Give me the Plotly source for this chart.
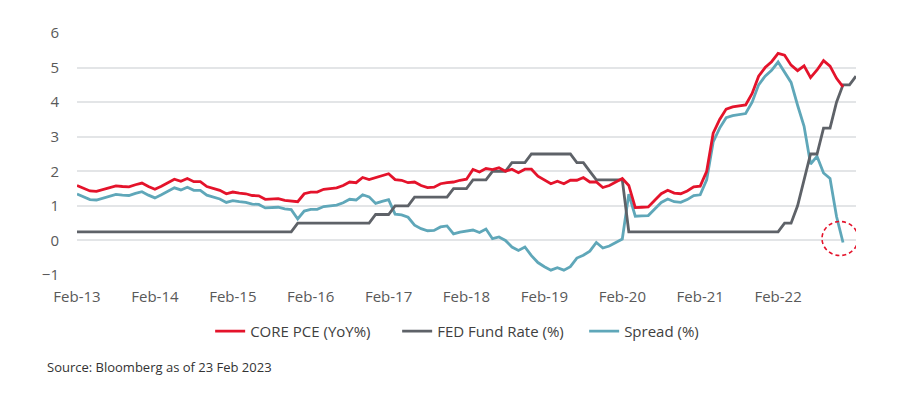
import pandas as pd
import plotly.graph_objects as go

# Monthly observations from Feb-2013
months = pd.date_range("2013-02-01", "2023-02-01", freq="MS").strftime("%b-%y").tolist()

core_pce = [
    1.59, 1.52, 1.43, 1.42, 1.47, 1.51, 1.58, 1.56, 1.55, 1.61, 1.66, 1.56,
    1.48, 1.57, 1.68, 1.77, 1.71, 1.79, 1.70, 1.70, 1.56, 1.50, 1.45, 1.35,
    1.40, 1.37, 1.35, 1.30, 1.29, 1.19, 1.21, 1.21, 1.16, 1.14, 1.12, 1.35,
    1.40, 1.40, 1.48, 1.50, 1.52, 1.59, 1.69, 1.67, 1.82, 1.76, 1.82, 1.88,
    1.93, 1.76, 1.74, 1.67, 1.69, 1.59, 1.53, 1.54, 1.64, 1.67, 1.69, 1.74,
    1.77, 2.05, 1.98, 2.08, 2.05, 2.10, 2.00, 2.06, 1.96, 2.06, 2.06, 1.86,
    1.74, 1.64, 1.71, 1.64, 1.74, 1.74, 1.82, 1.69, 1.69, 1.53, 1.59, 1.69,
    1.79, 1.59, 0.95, 0.96, 0.97, 1.16, 1.35, 1.45, 1.37, 1.35, 1.43, 1.55,
    1.57, 2.00, 3.10, 3.50, 3.80, 3.86, 3.88, 3.92, 4.25, 4.75, 5.00, 5.17,
    5.41, 5.36, 5.07, 4.91, 5.05, 4.71, 4.93, 5.20, 5.04, 4.69, 4.44,
]

fed_funds = [
    0.25, 0.25, 0.25, 0.25, 0.25, 0.25, 0.25, 0.25, 0.25, 0.25, 0.25, 0.25,
    0.25, 0.25, 0.25, 0.25, 0.25, 0.25, 0.25, 0.25, 0.25, 0.25, 0.25, 0.25,
    0.25, 0.25, 0.25, 0.25, 0.25, 0.25, 0.25, 0.25, 0.25, 0.25, 0.50, 0.50,
    0.50, 0.50, 0.50, 0.50, 0.50, 0.50, 0.50, 0.50, 0.50, 0.50, 0.75, 0.75,
    0.75, 1.00, 1.00, 1.00, 1.25, 1.25, 1.25, 1.25, 1.25, 1.25, 1.50, 1.50,
    1.50, 1.75, 1.75, 1.75, 2.00, 2.00, 2.00, 2.25, 2.25, 2.25, 2.50, 2.50,
    2.50, 2.50, 2.50, 2.50, 2.50, 2.25, 2.25, 2.00, 1.75, 1.75, 1.75, 1.75,
    1.75, 0.25, 0.25, 0.25, 0.25, 0.25, 0.25, 0.25, 0.25, 0.25, 0.25, 0.25,
    0.25, 0.25, 0.25, 0.25, 0.25, 0.25, 0.25, 0.25, 0.25, 0.25, 0.25, 0.25,
    0.25, 0.50, 0.50, 1.00, 1.75, 2.50, 2.50, 3.25, 3.25, 4.00, 4.50, 4.50,
    4.75,
]

spread = [
    1.34, 1.27, 1.18, 1.17, 1.22, 1.26, 1.33, 1.31, 1.30, 1.36, 1.41, 1.31,
    1.23, 1.32, 1.43, 1.52, 1.46, 1.54, 1.45, 1.45, 1.31, 1.25, 1.20, 1.10,
    1.15, 1.12, 1.10, 1.05, 1.04, 0.94, 0.96, 0.96, 0.91, 0.89, 0.62, 0.85,
    0.90, 0.90, 0.98, 1.00, 1.02, 1.09, 1.19, 1.17, 1.32, 1.26, 1.07, 1.13,
    1.18, 0.76, 0.74, 0.67, 0.44, 0.34, 0.28, 0.29, 0.39, 0.42, 0.19, 0.24,
    0.27, 0.30, 0.23, 0.33, 0.05, 0.10, 0.00, -0.19, -0.29, -0.19, -0.44, -0.64,
    -0.76, -0.86, -0.79, -0.86, -0.76, -0.51, -0.43, -0.31, -0.06, -0.22, -0.16, -0.06,
    0.04, 1.34, 0.70, 0.71, 0.72, 0.91, 1.10, 1.20, 1.12, 1.10, 1.18, 1.30,
    1.32, 1.75, 2.85, 3.25, 3.55, 3.61, 3.63, 3.67, 4.00, 4.50, 4.75, 4.92,
    5.16, 4.86, 4.57, 3.91, 3.30, 2.21, 2.43, 1.95, 1.79, 0.69, -0.06,
]

tick_labels = ["Feb-13", "Feb-14", "Feb-15", "Feb-16", "Feb-17",
               "Feb-18", "Feb-19", "Feb-20", "Feb-21", "Feb-22"]
y_ticks = [-1, 0, 1, 2, 3, 4, 5, 6]

RED = "#E4132B"
GREY = "#5E6268"
TEAL = "#5FA7B9"
FONT = "Open Sans"

fig = go.Figure()
fig.add_trace(go.Scatter(x=months[:len(spread)], y=spread, name="Spread (%)",
                         mode="lines", line=dict(color=TEAL, width=2.8),
                         legendrank=3))
fig.add_trace(go.Scatter(x=months[:len(fed_funds)], y=fed_funds, name="FED Fund Rate (%)",
                         mode="lines", line=dict(color=GREY, width=2.8),
                         legendrank=2))
fig.add_trace(go.Scatter(x=months[:len(core_pce)], y=core_pce, name="CORE PCE (YoY%)",
                         mode="lines", line=dict(color=RED, width=2.8),
                         legendrank=1))

# dashed circle highlighting the last spread reading
last_i = len(spread) - 1
fig.add_shape(type="circle", xref="x", yref="y",
              xsizemode="pixel", ysizemode="pixel",
              xanchor=last_i, yanchor=spread[last_i],
              x0=-21, x1=15, y0=-13, y1=21,
              line=dict(color=RED, width=1.6, dash="4px,3px"))

fig.update_layout(
    width=904, height=395,
    margin=dict(l=69, r=56, t=25, b=128),
    paper_bgcolor="white", plot_bgcolor="white",
    font=dict(family=FONT, color="#595959"),
    showlegend=True,
    legend=dict(orientation="h", x=0.531, xanchor="center", y=-0.233, yanchor="middle",
                font=dict(size=15, color="#404040", family=FONT),
                itemwidth=30, tracegroupgap=0, traceorder="normal",
                entrywidth=142, entrywidthmode="pixels"),
    annotations=[dict(text="Source: Bloomberg as of 23 Feb 2023", xref="paper", yref="paper",
                      x=-0.041, y=-0.382, xanchor="left", yanchor="middle", showarrow=False,
                      font=dict(size=13, color="#333333", family=FONT))],
)
fig.update_xaxes(type="category", categoryorder="array", categoryarray=months,
                 range=[0, len(months) - 1],
                 tickmode="array", tickvals=tick_labels, ticktext=tick_labels,
                 showgrid=False, zeroline=False, showline=False,
                 ticks="outside", ticklen=8, tickcolor="rgba(0,0,0,0)",
                 tickfont=dict(size=15, color="#595959", family=FONT))
fig.update_yaxes(range=[-1, 6], tickvals=y_ticks,
                 showgrid=True, gridcolor="#E3E5E7", gridwidth=1.5,
                 zeroline=False, showline=False,
                 ticks="outside", ticklen=14, tickcolor="rgba(0,0,0,0)",
                 tickfont=dict(size=15, color="#595959", family=FONT))

fig.write_html("out.html")
